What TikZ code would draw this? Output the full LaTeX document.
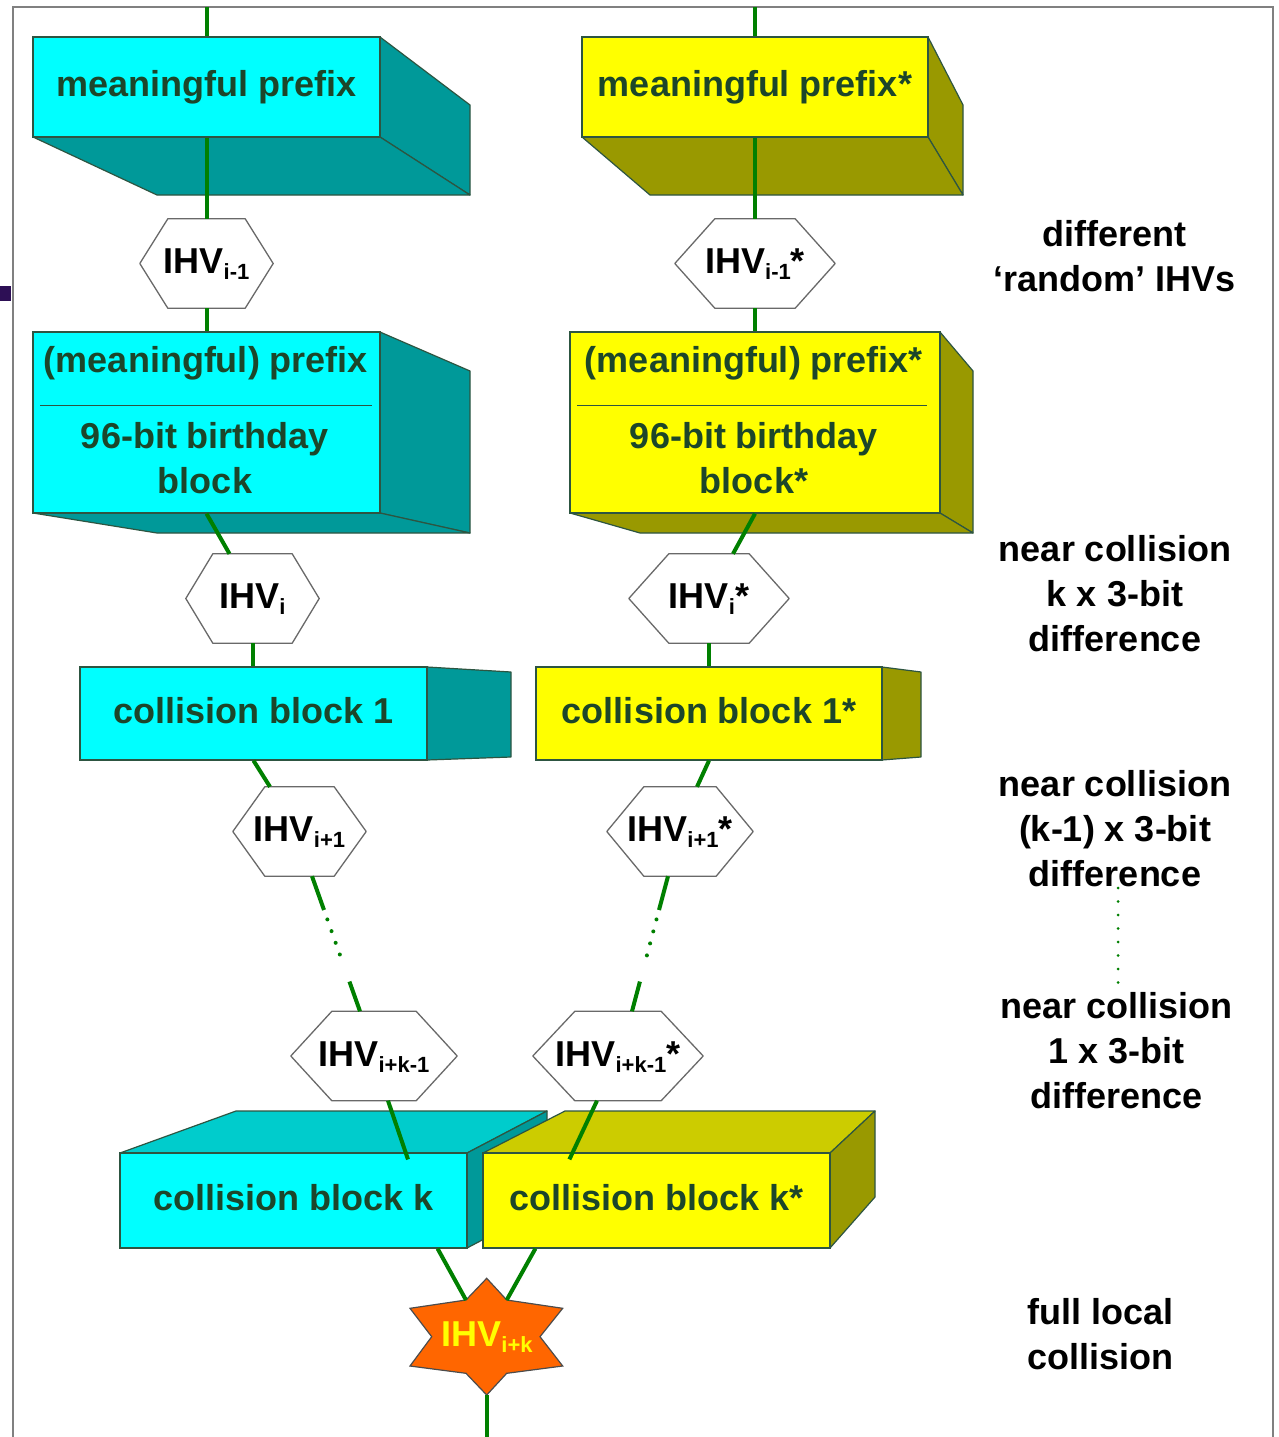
\documentclass[tikz,border=0pt]{standalone}
\usepackage{fontspec}
\setmainfont{Liberation Sans}
\usetikzlibrary{calc}
\definecolor{cyanF}{RGB}{0,255,255}
\definecolor{cyanS}{RGB}{0,153,153}
\definecolor{cyanT}{RGB}{0,204,204}
\definecolor{yelF}{RGB}{255,255,0}
\definecolor{yelS}{RGB}{153,153,0}
\definecolor{yelT}{RGB}{204,204,0}
\definecolor{edgeC}{RGB}{45,85,65}
\definecolor{txtG}{RGB}{28,70,42}
\definecolor{conG}{RGB}{0,128,0}
\definecolor{hexC}{RGB}{105,105,105}
\definecolor{starC}{RGB}{255,102,0}
\definecolor{frameC}{RGB}{128,128,128}
\definecolor{markC}{RGB}{45,15,85}
\newcommand\lowsub[1]{\raisebox{-6pt}{\fontsize{22}{22}\selectfont #1}}
\newcommand\hexoutline[2]{\draw[hexline] (#1.west) -- ($(#1.north west)+(#2,0)$) -- ($(#1.north east)+(-#2,0)$) -- (#1.east) -- ($(#1.south east)+(-#2,0)$) -- ($(#1.south west)+(#2,0)$) -- cycle;}
\tikzset{
  face/.style={draw=edgeC, line width=1.2pt, line join=round},
  front/.style={rectangle, draw=edgeC, line width=1.2pt, inner sep=0pt, text=txtG,
    font=\bfseries\fontsize{36}{43}\selectfont, text height=26pt, text depth=7pt},
  cyanfront/.style={front, fill=cyanF},
  yelfront/.style={front, fill=yelF},
  boxtext/.style={text=txtG, font=\bfseries\fontsize{36}{45}\selectfont, inner sep=0pt, anchor=base},
  hexnode/.style={rectangle, inner sep=0pt, minimum height=89pt,
    font=\bfseries\fontsize{36}{43}\selectfont, text height=26pt, text depth=6pt},
  hexline/.style={draw=hexC, line width=1.3pt, line join=round},
  conn/.style={draw=conG, line width=4pt},
  dotconn/.style={draw=conG, line width=4pt, line cap=round, dash pattern=on 0pt off 12.4pt},
  sidelabel/.style={font=\bfseries\fontsize{36}{45}\selectfont, align=center, inner sep=0pt, anchor=base},
}
\begin{document}
\begin{tikzpicture}[x=1pt,y=-1pt]
\useasboundingbox (0,0) rectangle (1278,1437);
\clip (0,0) rectangle (1278,1437);
\fill[white] (0,0) rectangle (1278,1437);
% frame and mark
\draw[frameC, line width=2pt] (13,1460) -- (13,7) -- (1273,7) -- (1273,1460);
\fill[markC] (0,286) rectangle (11,301);

% ---------- extrusions ----------
\draw[face, fill=cyanS] (380,37) -- (470,105) -- (470,195) -- (380,137) -- cycle;
\draw[face, fill=cyanS] (33,137) -- (380,137) -- (470,195) -- (157,195) -- cycle;
\draw[face, fill=yelS] (928,37) -- (963,105) -- (963,195) -- (928,137) -- cycle;
\draw[face, fill=yelS] (582,137) -- (928,137) -- (963,195) -- (650,195) -- cycle;

\draw[face, fill=cyanS] (380,332) -- (470,371) -- (470,533) -- (380,513) -- cycle;
\draw[face, fill=cyanS] (33,513) -- (380,513) -- (470,533) -- (157,533) -- cycle;
\draw[face, fill=yelS] (940,332) -- (973,371) -- (973,533) -- (940,513) -- cycle;
\draw[face, fill=yelS] (570,513) -- (940,513) -- (973,533) -- (640,533) -- cycle;

\draw[face, fill=cyanS] (427,667) -- (511,672) -- (511,757) -- (427,760) -- cycle;
\draw[face, fill=yelS] (882,667) -- (921,672) -- (921,757) -- (882,760) -- cycle;

% ---------- front faces ----------
\node[cyanfront, minimum width=347pt, minimum height=100pt] (mp) at (206.5,87) {meaningful prefix};
\node[yelfront, minimum width=346pt, minimum height=100pt] (mps) at (755,87) {meaningful prefix*};

\node[cyanfront, minimum width=347pt, minimum height=181pt] (bb) at (206.5,422.5) {};
\node[yelfront, minimum width=370pt, minimum height=181pt] (bbs) at (755,422.5) {};
\node[boxtext] (bbt1) at (206,372) {(meaningful) prefix};
\node[boxtext, align=center] (bbt2) at (205,493) {96-bit birthday\\block};
\node[boxtext] (bbst1) at (754,372) {(meaningful) prefix*};
\node[boxtext, align=center] (bbst2) at (754,493) {96-bit birthday\\block*};
\draw[edgeC, line width=1.2pt] ($(bb.north west)+(8,74)$) -- ($(bb.north east)+(-9,74)$);
\draw[edgeC, line width=1.2pt] ($(bbs.north west)+(8,74)$) -- ($(bbs.north east)+(-14,74)$);

\node[cyanfront, minimum width=347pt, minimum height=93pt] (cb1) at (253.5,713.5) {collision block 1};
\node[yelfront, minimum width=346pt, minimum height=93pt] (cb1s) at (709,713.5) {collision block 1*};

% block k (cyan)
\draw[face, fill=cyanT] (120,1153) -- (236,1111) -- (547,1111) -- (467,1153) -- cycle;
\draw[face, fill=cyanS] (467,1153) -- (547,1111) -- (547,1206) -- (467,1248) -- cycle;
\node[cyanfront, minimum width=347pt, minimum height=95pt] (cbk) at (293.5,1200.5) {collision block k};
% block k* (yellow)
\draw[face, fill=yelT] (483,1153) -- (565,1111) -- (875,1111) -- (830,1153) -- cycle;
\draw[face, fill=yelS] (830,1153) -- (875,1111) -- (875,1197) -- (830,1248) -- cycle;
\node[yelfront, minimum width=347pt, minimum height=95pt] (cbks) at (656.5,1200.5) {collision block k*};

% ---------- hexagons ----------
\node[hexnode, minimum width=133pt] (h1) at (206.5,263.5) {IHV\lowsub{i-1}};
\node[hexnode, minimum width=160pt] (h1s) at (755,263.5) {IHV\lowsub{i-1}*};
\node[hexnode, minimum width=133pt] (h2) at (252.5,598.5) {IHV\lowsub{i}};
\node[hexnode, minimum width=160pt] (h2s) at (709,598.5) {IHV\lowsub{i}*};
\node[hexnode, minimum width=133pt] (h3) at (299.5,831.5) {IHV\lowsub{i+1}};
\node[hexnode, minimum width=146pt] (h3s) at (680,831.5) {IHV\lowsub{i+1}*};
\node[hexnode, minimum width=166pt] (h4) at (374,1056) {IHV\lowsub{i+k-1}};
\node[hexnode, minimum width=170pt] (h4s) at (618,1056) {IHV\lowsub{i+k-1}*};
\hexoutline{h1}{28}
\hexoutline{h1s}{40}
\hexoutline{h2}{27}
\hexoutline{h2s}{40}
\hexoutline{h3}{32}
\hexoutline{h3s}{37}
\hexoutline{h4}{41}
\hexoutline{h4s}{42}

% ---------- star ----------
\coordinate (s1) at (486.7,1278.3);
\coordinate (s2) at (506.7,1300);
\coordinate (s3) at (562.7,1308.3);
\coordinate (s4) at (540,1336.7);
\coordinate (s5) at (562.7,1366);
\coordinate (s6) at (506.7,1373.3);
\coordinate (s7) at (486.7,1395);
\coordinate (s8) at (466,1373.3);
\coordinate (s9) at (410,1366);
\coordinate (s10) at (431.7,1336.7);
\coordinate (s11) at (410,1308.3);
\coordinate (s12) at (466,1300);
\draw[draw=black!70, line width=1.2pt, fill=starC, line join=miter]
  (s1) -- (s2) -- (s3) -- (s4) -- (s5) -- (s6) -- (s7) -- (s8) -- (s9) -- (s10) -- (s11) -- (s12) -- cycle;
\node[inner sep=0pt, text=yelF, font=\bfseries\fontsize{36}{43}\selectfont, text height=26pt, text depth=6pt] (st) at (487,1336) {IHV\lowsub{i+k}};

% ---------- connectors ----------
\coordinate (topL) at (206.5,7);
\coordinate (topR) at (755,7);
\coordinate (botC) at (486.7,1445);
\draw[conn] (topL) -- (mp.north);
\draw[conn] (mp.south) -- (h1.north);
\draw[conn] (h1.south) -- (bb.north);
\draw[conn] (bb.south) -- ($(h2.north)+(-23,0)$);
\draw[conn] (h2.south) -- (h2.south |- cb1.north);
\draw[conn] (cb1.south) -- ($(h3.north)+(-29.5,0)$);
\coordinate (la) at ($(h3.south)+(12.5,0)$);
\coordinate (lb) at ($(h4.north)+(-14,0)$);
\draw[conn] (la) -- ($(la)!0.25!(lb)$);
\draw[dotconn] ($(la)!0.32!(lb)$) -- ($(la)!0.665!(lb)$);
\draw[conn] ($(la)!0.78!(lb)$) -- (lb);
\coordinate (kL) at ($(cbk.north)+(114.5,7)$);
\draw[conn] ($(h4.south)+(14,0)$) -- (kL);
\draw[conn] ($(cbk.south east)+(-30,0)$) -- (s12);

\draw[conn] (topR) -- (mps.north);
\draw[conn] (mps.south) -- (h1s.north);
\draw[conn] (h1s.south) -- (bbs.north);
\draw[conn] (bbs.south) -- ($(h2s.north)+(24,0)$);
\draw[conn] (h2s.south) -- (h2s.south |- cb1s.north);
\draw[conn] (cb1s.south) -- ($(h3s.north)+(17,0)$);
\coordinate (ra) at ($(h3s.south)+(-12,0)$);
\coordinate (rb) at ($(h4s.north)+(14,0)$);
\draw[conn] (ra) -- ($(ra)!0.25!(rb)$);
\draw[dotconn] ($(ra)!0.32!(rb)$) -- ($(ra)!0.665!(rb)$);
\draw[conn] ($(ra)!0.78!(rb)$) -- (rb);
\coordinate (kR) at ($(cbks.north west)+(87,7)$);
\draw[conn] ($(h4s.south)+(-21,0)$) -- (kR);
\draw[conn] ($(cbks.south west)+(53,0)$) -- (s2);
\draw[conn] (s7) -- (botC);

% ---------- side labels (base = last line) ----------
\node[sidelabel] (lab1) at (1114.5,291) {different\\‘random’ IHVs};
\node[sidelabel] (lab2) at (1115,651) {near collision\\k x 3-bit\\difference};
\node[sidelabel] (lab3) at (1115,886) {near collision\\(k-1) x 3-bit\\difference};
\node[sidelabel] (lab4) at (1116.5,1108) {near collision\\1 x 3-bit\\difference};
\node[sidelabel] (lab5) at (1100.5,1369) {full local\\collision};
\coordinate (dA) at (1118,888);
\coordinate (dB) at (1118,983);
\draw[conG, line width=3pt, line cap=round, dash pattern=on 0pt off 13.5pt] (dA) -- (dB);
\end{tikzpicture}
\end{document}
